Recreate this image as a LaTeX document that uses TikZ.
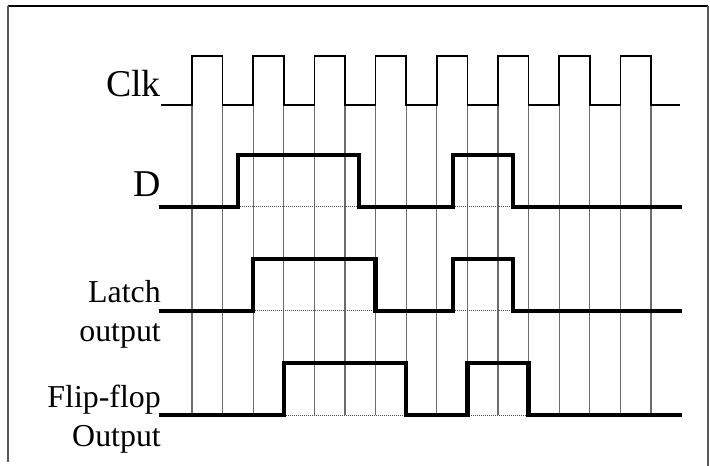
\documentclass[tikz,border=0pt]{standalone}
\usepackage{fontspec}
\setmainfont{Liberation Serif}
\begin{document}
\begin{tikzpicture}[x=1bp,y=-1bp,
  sig/.style={line width=4.3bp,line join=miter,line cap=rect},
  clk/.style={line width=1.5bp,line join=miter},
  grid/.style={line width=1.2bp,gray!85!black},
  base/.style={line width=1bp,gray!60!black,densely dotted},
  big/.style={font=\fontsize{38}{40}\selectfont,inner sep=0pt,anchor=base east},
  lab/.style={font=\fontsize{32}{34}\selectfont,inner sep=0pt,anchor=base east},
  frame/.style={line width=1.2bp,gray!70!black}]
\useasboundingbox (0,0) rectangle (710,466);
% frame
\draw[line width=1.5bp] (8,6) -- (708,6);
\draw[frame] (8,6) -- (8,462);
\draw[frame] (708,6) -- (708,466);
% grid
\foreach \i in {0,...,15} \draw[grid] ({192+30.6*\i},105) -- ({192+30.6*\i},415);
% baselines under high parts
\draw[base] (238,207) -- (359,207);
\draw[base] (453,207) -- (513,207);
\draw[base] (253.2,311) -- (375.6,311);
\draw[base] (453,311) -- (513,311);
\draw[base] (283.8,415) -- (406.2,415);
\draw[base] (467.4,415) -- (528.6,415);
% clock
\draw[clk] (161,105) \foreach \k in {0,...,7} { -- ({192+61.2*\k},105) -- ({192+61.2*\k},56) -- ({222.6+61.2*\k},56) -- ({222.6+61.2*\k},105) } -- (680,105);
% D
\draw[sig] (161,207) -- (238,207) -- (238,155) -- (359,155) -- (359,207) -- (453,207) -- (453,155) -- (513,155) -- (513,207) -- (680,207);
% Latch
\draw[sig] (161,311) -- (253.2,311) -- (253.2,259) -- (375.6,259) -- (375.6,311) -- (453,311) -- (453,259) -- (513,259) -- (513,311) -- (680,311);
% Flip-flop
\draw[sig] (161,415) -- (283.8,415) -- (283.8,363) -- (406.2,363) -- (406.2,415) -- (467.4,415) -- (467.4,363) -- (528.6,363) -- (528.6,415) -- (680,415);
% labels
\node[big] (lclk) at (161,97) {Clk};
\node[big] (ld) at (161,197) {D};
\node[lab] (llatch) at (161,303) {Latch};
\node[lab] (lout) at (161,342) {output};
\node[lab] (lff) at (161,407) {Flip-flop};
\node[lab] (lffo) at (161,446) {Output};
\end{tikzpicture}
\end{document}
